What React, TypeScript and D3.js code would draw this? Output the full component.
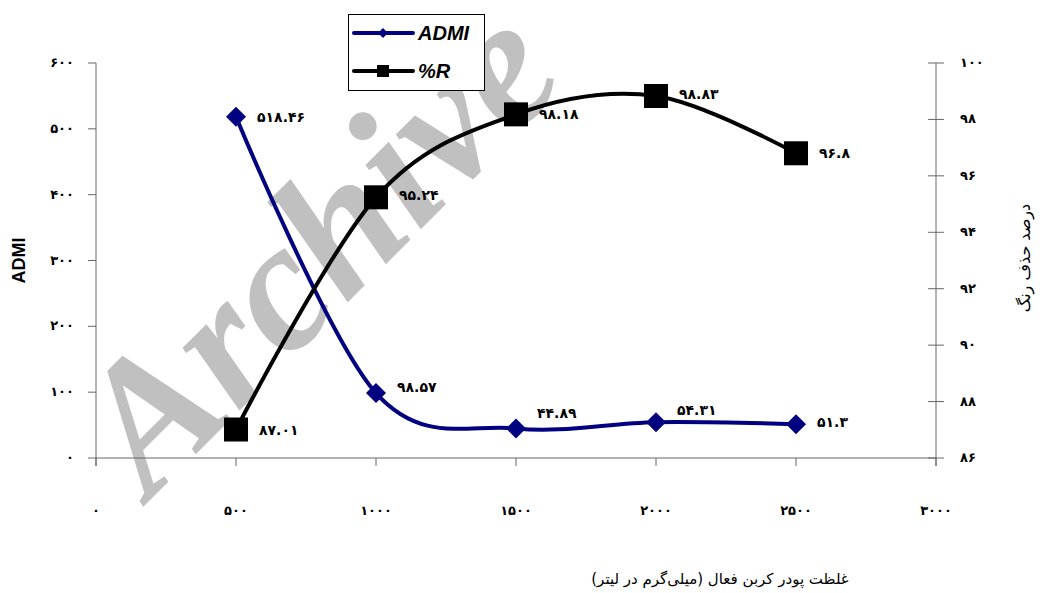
import React, { useEffect, useRef } from 'react';
import * as d3 from 'd3';

// x values (mg/L of activated carbon powder)
const doses = [500, 1000, 1500, 2000, 2500];
const admiValues = [518.46, 98.57, 44.89, 54.31, 51.3];
const removalValues = [87.01, 95.24, 98.18, 98.83, 96.8];

const xTicks = [0, 500, 1000, 1500, 2000, 2500, 3000];
const leftTicks = [0, 100, 200, 300, 400, 500, 600];
const rightTicks = [86, 88, 90, 92, 94, 96, 98, 100];

// small vertical nudges for the data labels (pixels)
const admiLabelDy = [0, -6, -15, -12, -2];
const removalLabelDy = [0, -2, 0, -2, 0];

const toFa = (s: string) => s.replace(/[0-9]/g, c => '۰۱۲۳۴۵۶۷۸۹'[+c]);

const W = 1042;
const H = 593;

const App: React.FC = () => {
  const ref = useRef<SVGSVGElement>(null);

  useEffect(() => {
    if (!ref.current) return;
    const svg = d3.select(ref.current);
    svg.selectAll('*').remove();

    const x = d3.scaleLinear().domain([0, 3000]).range([96, 936]);
    const yL = d3.scaleLinear().domain([0, 600]).range([458, 63]);
    const yR = d3.scaleLinear().domain([86, 100]).range([458, 63]);

    const digitFont = "'DejaVu Sans', sans-serif";

    // watermark
    svg.append('text')
      .attr('transform', 'translate(150,500) rotate(-45)')
      .attr('font-family', "'Liberation Serif', serif")
      .attr('font-weight', 'bold')
      .attr('font-style', 'italic')
      .attr('font-size', 184)
      .attr('fill', '#c0c0c0')
      .text('Archive');

    const axisColor = '#666';

    // x axis
    svg.append('line')
      .attr('x1', x(0)).attr('x2', x(3000)).attr('y1', 458).attr('y2', 458)
      .attr('stroke', axisColor);
    svg.selectAll('.xt').data(xTicks).enter().append('line')
      .attr('x1', d => x(d)).attr('x2', d => x(d)).attr('y1', 458).attr('y2', 466)
      .attr('stroke', axisColor);
    svg.selectAll('.xl').data(xTicks).enter().append('text')
      .attr('x', d => x(d)).attr('y', 515)
      .attr('text-anchor', 'middle')
      .attr('font-family', digitFont).attr('font-weight', 'bold').attr('font-size', 13)
      .text(d => toFa(String(d)));

    // left axis
    svg.append('line')
      .attr('x1', 96).attr('x2', 96).attr('y1', yL(600)).attr('y2', 466)
      .attr('stroke', axisColor);
    svg.selectAll('.lt').data(leftTicks).enter().append('line')
      .attr('x1', 88).attr('x2', 96).attr('y1', d => yL(d)).attr('y2', d => yL(d))
      .attr('stroke', axisColor);
    svg.selectAll('.ll').data(leftTicks).enter().append('text')
      .attr('x', 74).attr('y', d => yL(d) + 4)
      .attr('text-anchor', 'end')
      .attr('font-family', digitFont).attr('font-weight', 'bold').attr('font-size', 13)
      .text(d => toFa(String(d)));

    // right axis
    svg.append('line')
      .attr('x1', 936).attr('x2', 936).attr('y1', yR(100)).attr('y2', 466)
      .attr('stroke', axisColor);
    svg.selectAll('.rt').data(rightTicks).enter().append('line')
      .attr('x1', 928).attr('x2', 944).attr('y1', d => yR(d)).attr('y2', d => yR(d))
      .attr('stroke', axisColor);
    svg.selectAll('.rl').data(rightTicks).enter().append('text')
      .attr('x', 960).attr('y', d => yR(d) + 4)
      .attr('font-family', digitFont).attr('font-weight', 'bold').attr('font-size', 13)
      .text(d => toFa(String(d)));

    // axis titles
    svg.append('text')
      .attr('transform', `translate(25,${yL(300)}) rotate(-90)`)
      .attr('text-anchor', 'middle')
      .attr('font-family', "'Liberation Sans', Arial, sans-serif")
      .attr('font-weight', 'bold').attr('font-size', 18)
      .text('ADMI');
    svg.append('text')
      .attr('transform', `translate(1030,258) rotate(-90)`)
      .attr('text-anchor', 'middle')
      .attr('direction', 'rtl')
      .attr('font-family', digitFont).attr('font-size', 16)
      .text('درصد حذف رنگ');
    svg.append('text')
      .attr('x', 720).attr('y', 584)
      .attr('text-anchor', 'middle')
      .attr('direction', 'rtl')
      .attr('font-family', digitFont).attr('font-size', 15)
      .text('غلظت پودر کربن فعال (میلی‌گرم در لیتر)');

    const curve = d3.curveCardinal.tension(0);

    // ADMI series
    const admiLine = d3.line<number>()
      .x((_, i) => x(doses[i]))
      .y(d => yL(d))
      .curve(curve);
    svg.append('path')
      .attr('d', admiLine(admiValues))
      .attr('fill', 'none').attr('stroke', '#000080').attr('stroke-width', 4);

    // %R series
    const rLine = d3.line<number>()
      .x((_, i) => x(doses[i]))
      .y(d => yR(d))
      .curve(curve);
    svg.append('path')
      .attr('d', rLine(removalValues))
      .attr('fill', 'none').attr('stroke', '#000').attr('stroke-width', 4);

    const diamond = d3.symbol().type(d3.symbolSquare).size(200)();
    svg.selectAll('.dm').data(admiValues).enter().append('path')
      .attr('d', diamond)
      .attr('transform', (d, i) => `translate(${x(doses[i])},${yL(d)}) rotate(45)`)
      .attr('fill', '#000080');

    svg.selectAll('.sq').data(removalValues).enter().append('rect')
      .attr('x', (_, i) => x(doses[i]) - 12)
      .attr('y', d => yR(d) - 12)
      .attr('width', 24).attr('height', 24)
      .attr('fill', '#000');

    // data labels
    svg.selectAll('.al').data(admiValues).enter().append('text')
      .attr('x', (_, i) => x(doses[i]) + 21)
      .attr('y', (d, i) => yL(d) + 5 + admiLabelDy[i])
      .attr('font-family', digitFont).attr('font-weight', 'bold').attr('font-size', 14)
      .text(d => toFa(String(d)));
    svg.selectAll('.rlb').data(removalValues).enter().append('text')
      .attr('x', (_, i) => x(doses[i]) + 23)
      .attr('y', (d, i) => yR(d) + 5 + removalLabelDy[i])
      .attr('font-family', digitFont).attr('font-weight', 'bold').attr('font-size', 14)
      .text(d => toFa(String(d)));

    // legend
    const lg = svg.append('g');
    lg.append('rect')
      .attr('x', 348.5).attr('y', 14.5).attr('width', 136).attr('height', 76)
      .attr('fill', '#fff').attr('stroke', '#000');
    const legendItems = [
      { name: 'ADMI', color: '#000080', shape: 'diamond' },
      { name: '%R', color: '#000', shape: 'square' },
    ];
    legendItems.forEach((it, i) => {
      const cy = 33 + i * 38;
      lg.append('line')
        .attr('x1', 354).attr('x2', 413).attr('y1', cy).attr('y2', cy)
        .attr('stroke', it.color).attr('stroke-width', 4).attr('stroke-linecap', 'round');
      if (it.shape === 'diamond') {
        lg.append('path')
          .attr('d', d3.symbol().type(d3.symbolSquare).size(50)())
          .attr('transform', `translate(383,${cy}) rotate(45)`)
          .attr('fill', it.color);
      } else {
        lg.append('rect')
          .attr('x', 377).attr('y', cy - 6).attr('width', 12).attr('height', 12)
          .attr('fill', it.color);
      }
      lg.append('text')
        .attr('x', 418).attr('y', cy + 7)
        .attr('font-family', "'Liberation Sans', Arial, sans-serif")
        .attr('font-weight', 'bold').attr('font-style', 'italic').attr('font-size', 20)
        .text(it.name);
    });
  }, []);

  return (
    <svg
      ref={ref}
      width={W}
      height={H}
      style={{ position: 'absolute', left: 0, top: 0, background: '#fff' }}
    />
  );
};

export default App;
